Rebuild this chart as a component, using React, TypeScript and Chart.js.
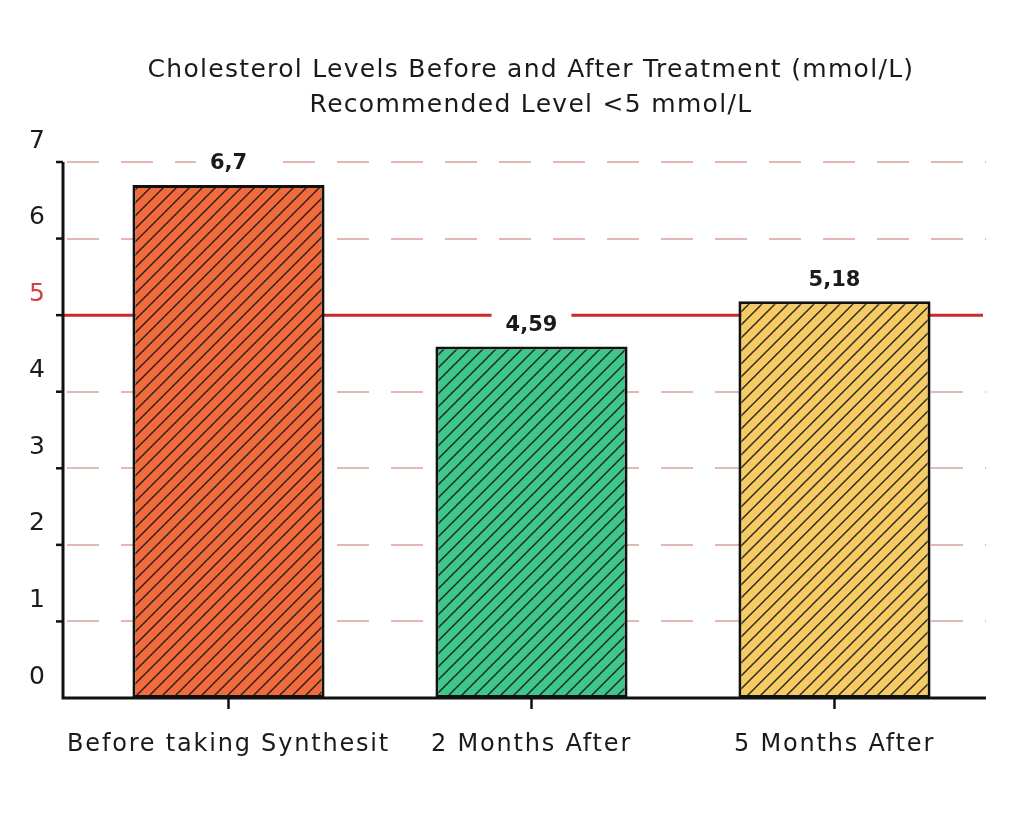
import { useEffect, useRef } from "react";
import { Chart, ChartConfiguration, Plugin, registerables } from "chart.js";

Chart.register(...registerables);

const titleLines = [
  "Cholesterol Levels Before and After Treatment (mmol/L)",
  "Recommended Level <5 mmol/L",
];
const categories = ["Before taking Synthesit", "2 Months After", "5 Months After"];
const cholesterol = [6.7, 4.59, 5.18];
const barColors = ["#F26B3C", "#3DC78B", "#F6CB63"];
const yTicks = [0, 1, 2, 3, 4, 5, 6, 7];
const recommendedLevel = 5;

const FONT = "'DejaVu Sans', 'Open Sans', sans-serif";

function hatch(color: string): CanvasPattern | string {
  const size = 13;
  const c = document.createElement("canvas");
  c.width = size;
  c.height = size;
  const g = c.getContext("2d");
  if (!g) return color;
  g.fillStyle = color;
  g.fillRect(0, 0, size, size);
  g.strokeStyle = "rgba(25,25,25,0.9)";
  g.lineWidth = 1.5;
  g.beginPath();
  g.moveTo(0, size);
  g.lineTo(size, 0);
  g.moveTo(-size / 2, size / 2);
  g.lineTo(size / 2, -size / 2);
  g.moveTo(size / 2, size * 1.5);
  g.lineTo(size * 1.5, size / 2);
  g.stroke();
  return g.createPattern(c, "repeat") || color;
}

const AXIS_X = 63;

function spaced(ctx: CanvasRenderingContext2D, px: number) {
  (ctx as any).letterSpacing = `${px}px`;
}

const decorations: Plugin<"bar"> = {
  id: "decorations",
  beforeDatasetsDraw(chart) {
    const { ctx, chartArea, scales } = chart;
    const y = scales.y;
    ctx.save();
    // dashed grid
    ctx.strokeStyle = "#E4B7B7";
    ctx.lineWidth = 2;
    ctx.setLineDash([32, 22]);
    yTicks.forEach((t) => {
      if (t === 0 || t === recommendedLevel) return;
      const py = Math.round(y.getPixelForValue(t));
      ctx.beginPath();
      ctx.moveTo(AXIS_X + 4, py);
      ctx.lineTo(chartArea.right, py);
      ctx.stroke();
    });
    ctx.setLineDash([]);
    // recommended level line
    const ry = y.getPixelForValue(recommendedLevel);
    ctx.strokeStyle = "#C92A2A";
    ctx.lineWidth = 3;
    ctx.beginPath();
    ctx.moveTo(AXIS_X, ry);
    ctx.lineTo(chartArea.right - 3, ry);
    ctx.stroke();
    ctx.restore();
  },
  afterDatasetsDraw(chart) {
    const { ctx, chartArea, scales } = chart;
    const x = scales.x;
    const y = scales.y;
    ctx.save();

    // value labels with white box
    ctx.font = `700 21px ${FONT}`;
    ctx.textAlign = "center";
    ctx.textBaseline = "middle";
    cholesterol.forEach((v, i) => {
      const px = x.getPixelForValue(i);
      const py = y.getPixelForValue(v) - 21;
      const text = String(v).replace(".", ",");
      const w = ctx.measureText(text).width + 28;
      ctx.fillStyle = "#ffffff";
      ctx.fillRect(px - w / 2, py - 17, w, 34);
      ctx.fillStyle = "#1a1a1a";
      ctx.fillText(text, px, py);
    });

    // axes
    const top = y.getPixelForValue(yTicks[yTicks.length - 1]);
    const bottom = y.getPixelForValue(0);
    ctx.strokeStyle = "#111111";
    ctx.lineWidth = 3;
    ctx.beginPath();
    ctx.moveTo(AXIS_X, top);
    ctx.lineTo(AXIS_X, bottom);
    ctx.lineTo(chartArea.right, bottom);
    ctx.stroke();

    // y ticks + labels
    ctx.lineWidth = 2.5;
    ctx.font = `400 25px ${FONT}`;
    yTicks.forEach((t) => {
      const py = y.getPixelForValue(t);
      if (t > 0) {
        ctx.beginPath();
        ctx.moveTo(AXIS_X - 7, py);
        ctx.lineTo(AXIS_X, py);
        ctx.stroke();
      }
      ctx.fillStyle = t === recommendedLevel ? "#D0423F" : "#1a1a1a";
      ctx.fillText(String(t), 37, py - 21);
    });

    // x ticks + labels
    ctx.font = `400 24px ${FONT}`;
    ctx.fillStyle = "#1a1a1a";
    spaced(ctx, 1.8);
    categories.forEach((c, i) => {
      const px = x.getPixelForValue(i);
      ctx.beginPath();
      ctx.moveTo(px, bottom);
      ctx.lineTo(px, bottom + 11);
      ctx.stroke();
      ctx.fillText(c, px, 745);
    });

    // title
    ctx.font = `400 25px ${FONT}`;
    spaced(ctx, 1.3);
    titleLines.forEach((line, i) => {
      ctx.fillText(line, 531, 70 + i * 35);
    });
    spaced(ctx, 0);
    ctx.restore();
  },
};

export default function App() {
  const canvasRef = useRef<HTMLCanvasElement>(null);
  const chartRef = useRef<Chart | null>(null);

  useEffect(() => {
    document.body.style.margin = "0";
    if (!canvasRef.current) return;
    if (chartRef.current) chartRef.current.destroy();
    const ctx = canvasRef.current.getContext("2d");
    if (!ctx) return;

    const config: ChartConfiguration<"bar"> = {
      type: "bar",
      data: {
        labels: categories,
        datasets: [
          {
            data: cholesterol,
            backgroundColor: barColors.map((c) => hatch(c)),
            borderColor: "#111111",
            borderWidth: 3,
            borderSkipped: false,
            barPercentage: 0.634,
            categoryPercentage: 1,
          },
        ],
      },
      options: {
        responsive: true,
        maintainAspectRatio: false,
        animation: false,
        layout: { padding: { left: 77, right: 33, top: 162, bottom: 115 } },
        plugins: {
          legend: { display: false },
          title: { display: false },
          tooltip: { enabled: false },
        },
        scales: {
          x: { display: false },
          y: { display: false, min: 0, max: 7 },
        },
      },
      plugins: [decorations],
    };

    chartRef.current = new Chart(ctx, config);
    return () => {
      if (chartRef.current) {
        chartRef.current.destroy();
        chartRef.current = null;
      }
    };
  }, []);

  return (
    <div style={{ position: "relative", width: 1019, height: 813 }}>
      <canvas ref={canvasRef} />
    </div>
  );
}
